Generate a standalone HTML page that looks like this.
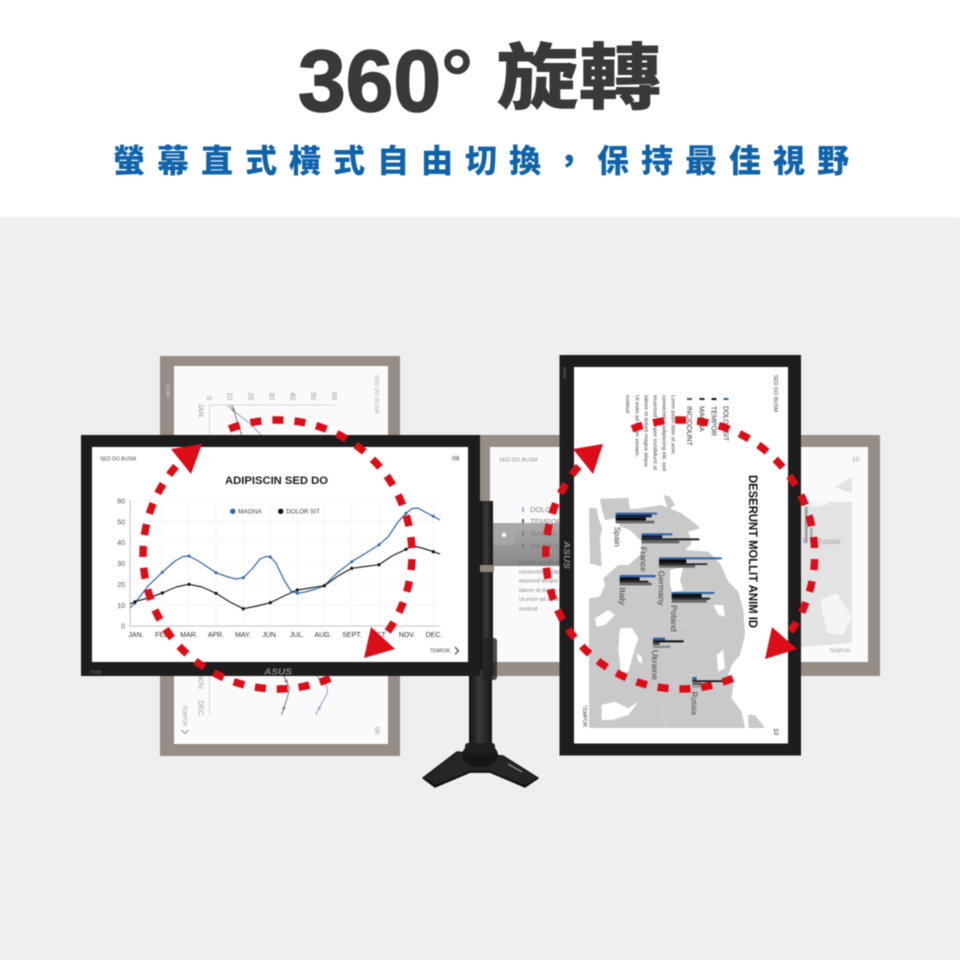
<!DOCTYPE html>
<html><head><meta charset="utf-8"><style>
html,body{margin:0;padding:0;width:960px;height:960px;overflow:hidden;background:#fff}
svg{display:block;filter:blur(.4px)}
text{font-family:"Liberation Sans","Noto Sans CJK TC",sans-serif}
</style></head><body>
<svg width="960" height="960" viewBox="0 0 960 960" xmlns="http://www.w3.org/2000/svg">
<defs>
<linearGradient id="pole" x1="0" x2="1" y1="0" y2="0"><stop offset="0" stop-color="#111"/><stop offset=".45" stop-color="#3a3a3a"/><stop offset="1" stop-color="#151515"/></linearGradient>
<linearGradient id="arm" x1="0" x2="0" y1="0" y2="1"><stop offset="0" stop-color="#9a9a9a"/><stop offset="1" stop-color="#6e6e6e"/></linearGradient>
</defs>
<rect width="960" height="960" fill="#fff"/>
<rect y="217" width="960" height="743" fill="#efefef"/>

<!-- Heading -->
<text x="298" y="111" font-size="87" font-weight="700" fill="#393939" stroke="#393939" stroke-width="1.6" textLength="143" lengthAdjust="spacingAndGlyphs">360</text>
<text x="441" y="105" font-size="80" font-weight="700" fill="#393939" stroke="#393939" stroke-width=".6">°</text>
<text transform="translate(496 103) scale(1.01 .88)" font-size="82" font-weight="900" fill="#393939">旋轉</text>
<text x="113" y="172" font-size="32" font-weight="900" fill="#0f63ab" letter-spacing="12">螢幕直式橫式自由切換，保持最佳視野</text>

<!-- Left portrait ghost -->
<rect x="160" y="356" width="240" height="400" fill="#968d87"/>
<rect x="174" y="366" width="214" height="378" fill="#fafafa"/>
<text transform="translate(166 385) rotate(90)" font-size="5" fill="#ccc">HDMI</text>
<g transform="matrix(0 1 -1 0 835.5 275)" opacity=".55">
 <g stroke="#bbb" stroke-width="1" fill="none"><path d="M130 500V626H440"/></g>
 <polyline fill="none" stroke="#3c68a8" stroke-width="1.1" points="130,608 135,603 148,586 162.3,572.3 175,561 183,556.5 189,556 200,562 216,572.7 228,577 236,579 243.3,577.7 252,569 260,559 266,556.5 270.3,557 276,563 284,580 291,591 297.3,593.3 305,592 316,589 324.3,585.7 337,573 351.7,561.7 366,553 379,544.7 388,537 398,522 406,513.3 412,508.5 418,508 425,512 433.3,516.3 440,520"/>
 <polyline fill="none" stroke="#222" stroke-width="1.1" points="130,604 135,601.7 148,598 162.3,593 176,587 189,584.3 202,587 216,593.3 230,602 243.3,608.7 257,606 270.3,602.7 284,596 297.3,590 310,588 324.3,585.7 338,576 351.7,568.3 365,566.5 379,564.7 392,556 406,549.3 413,546 422,548 433.3,551.7 440,554"/>
 <circle cx="135" cy="602" r="1.5" fill="#222"/><circle cx="406" cy="549.3" r="1.5" fill="#222"/><circle cx="433.3" cy="551.7" r="1.5" fill="#222"/><circle cx="433.3" cy="516.3" r="1.5" fill="#3c68a8"/>
 <g font-size="7" fill="#444" text-anchor="end"><text x="125" y="503.5">60</text><text x="125" y="524.3">50</text><text x="125" y="545">40</text><text x="125" y="566">30</text><text x="125" y="587">20</text><text x="125" y="608">10</text><text x="125" y="628.5">0</text></g>
 <g font-size="7" fill="#444" text-anchor="middle"><text x="136" y="637">JAN.</text><text x="407" y="637">NOV.</text><text x="434" y="637">DEC.</text></g>
 <text x="100" y="460.5" font-size="5.5" fill="#666">SED DO BUSM</text>
 <text x="452" y="460.5" font-size="6.5" fill="#444">09</text>
 <text x="430" y="652.5" font-size="5" fill="#555">TEMPOR</text>
 <path d="M455 647l3.5 3.7-3.5 3.7" fill="none" stroke="#444" stroke-width="1"/>
</g>

<!-- Right landscape ghost -->
<rect x="480" y="435" width="400" height="241" fill="#968d87"/>
<rect x="490" y="447" width="378" height="215" fill="#fafafa"/>
<polygon points="800,508 820,502 852,502 852,643 800,647" fill="#e3e3e3"/>
<polygon points="835,487 852,477 852,493 842,490" fill="#e3e3e3"/>
<polygon points="820,600 837,593 852,617 843,635 827,633" fill="#f5f5f5"/>
<polygon points="805,503 818,500 830,504 815,507" fill="#f5f5f5"/>
<rect x="805" y="507" width="2.5" height="36" fill="#9a9a9a"/>
<rect x="810" y="528" width="2.5" height="14" fill="#aaa"/>
<rect x="803" y="538" width="2.5" height="5" fill="#a9b8d6"/>
<text x="816" y="544" font-size="8" fill="#a0a0a0">Russia</text>
<text x="499" y="461.5" font-size="5.5" fill="#8c8c8c">SED DO BUSM</text>
<text x="852" y="461.5" font-size="6.5" fill="#999">10</text>
<text x="829" y="652.5" font-size="5" fill="#999">TEMPOR</text>
<rect x="522" y="507" width="2" height="5" fill="#a3b3d3"/><text x="530" y="512" font-size="7.5" fill="#888">DOLOR SIT</text>
<rect x="522" y="519" width="2" height="5" fill="#666"/><text x="530" y="524" font-size="7.5" fill="#888">TEMPOR</text>
<rect x="522" y="531" width="2" height="5" fill="#333"/><text x="530" y="536" font-size="7.5" fill="#555">MAGNA</text>
<rect x="522" y="543.5" width="2" height="5" fill="#555"/><text x="530" y="548.5" font-size="7.5" fill="#555">INCIDDUNT</text>
<g font-size="5.5" fill="#888">
<text x="519" y="564.5" fill="#444" font-size="6">Lorem ipsum dolor sit amet,</text>
<text x="519" y="573.5">consectetur adipiscing</text>
<text x="519" y="582.5">eiusmod tempor incididunt</text>
<text x="519" y="592">labore et dolore magna</text>
<text x="519" y="601">Ut enim ad minim</text>
<text x="519" y="610.5">nostrud</text>
</g>

<!-- Arm and pole -->
<rect x="492" y="523" width="68" height="43" fill="url(#arm)" opacity=".82"/>
<rect x="493" y="523" width="22" height="22" rx="3" fill="#a8a8a8" opacity=".8"/>
<circle cx="504" cy="535" r="2.2" fill="#fff"/>
<rect x="480" y="501" width="13" height="175" fill="url(#pole)"/>
<rect x="480" y="565" width="14" height="7" fill="#8d8678"/>
<rect x="469" y="670" width="23" height="76" fill="url(#pole)"/>
<rect x="483" y="638" width="14" height="42" rx="3" fill="#222" opacity=".8"/>
<polygon points="423,778 457,752 503,756 538,778 525,787 490,772 470,772 435,787" fill="#252525" stroke="#1c1c1c" stroke-width="1.5" stroke-linejoin="round"/>
<path d="M425 779l10 7 35-14h20l35 14 12-7" fill="none" stroke="#0c0c0c" stroke-width="1.5"/>
<ellipse cx="480" cy="755" rx="18" ry="12" fill="#171717"/>
<rect x="465" y="743" width="30" height="12" rx="3" fill="#1e1e1e"/>
<path d="M508 764l14 8" stroke="#999" stroke-width="1.2"/>

<!-- Left monitor -->
<rect x="81" y="435" width="399" height="241" fill="#1d1d1d"/>
<rect x="92" y="447" width="376" height="215" fill="#fff"/>
<g stroke="#f0f0f0" stroke-width=".7" fill="none">
 <path d="M130 500.7H440M130 521.5H440M130 542.3H440M130 563.2H440M130 584H440M130 604.9H440M162.3 500V626M189 500V626M216 500V626M243.3 500V626M270.3 500V626M297.3 500V626M324.3 500V626M351.7 500V626M379 500V626M406 500V626M433.3 500V626"/>
</g>
<path d="M130 500V626H440" fill="none" stroke="#c4c4c4" stroke-width="1"/>
<text x="100" y="460.5" font-size="5.5" fill="#444" textLength="36" lengthAdjust="spacingAndGlyphs">SED DO BUSM</text>
<text x="452" y="460.5" font-size="6.5" fill="#333">09</text>
<text x="225" y="484" font-size="11" font-weight="700" fill="#1c1c1c" textLength="103" lengthAdjust="spacingAndGlyphs">ADIPISCIN SED DO</text>
<circle cx="232.7" cy="511.3" r="2.7" fill="#2d62a8"/><text x="238" y="513.6" font-size="6.5" fill="#444" textLength="24" lengthAdjust="spacingAndGlyphs">MAGNA</text>
<circle cx="280.7" cy="511.3" r="2.7" fill="#111"/><text x="286" y="513.6" font-size="6.5" fill="#444" textLength="34" lengthAdjust="spacingAndGlyphs">DOLOR SIT</text>
<g font-size="7" fill="#555" text-anchor="end"><text x="125" y="503.5">60</text><text x="125" y="524.3">50</text><text x="125" y="545">40</text><text x="125" y="566">30</text><text x="125" y="587">20</text><text x="125" y="608">10</text><text x="125" y="628.5">0</text></g>
<g font-size="7" fill="#333" text-anchor="middle"><text x="136" y="637">JAN.</text><text x="163" y="637">FEB.</text><text x="189" y="637">MAR.</text><text x="216" y="637">APR.</text><text x="243" y="637">MAY.</text><text x="270" y="637">JUN.</text><text x="297" y="637">JUL.</text><text x="323" y="637">AUG.</text><text x="352" y="637">SEPT.</text><text x="379" y="637">OCT.</text><text x="407" y="637">NOV.</text><text x="434" y="637">DEC.</text></g>
<polyline fill="none" stroke="#2f65ab" stroke-width="1.2" stroke-linejoin="round" points="130,608 135,603 148,586 162.3,572.3 175,561 183,556.5 189,556 200,562 216,572.7 228,577 236,579 243.3,577.7 252,569 260,559 266,556.5 270.3,557 276,563 284,580 291,591 297.3,593.3 305,592 316,589 324.3,585.7 337,573 351.7,561.7 366,553 379,544.7 388,537 398,522 406,513.3 412,508.5 418,508 425,512 433.3,516.3 440,520"/>
<polyline fill="none" stroke="#222" stroke-width="1.2" stroke-linejoin="round" points="130,604 135,601.7 148,598 162.3,593 176,587 189,584.3 202,587 216,593.3 230,602 243.3,608.7 257,606 270.3,602.7 284,596 297.3,590 310,588 324.3,585.7 338,576 351.7,568.3 365,566.5 379,564.7 392,556 406,549.3 413,546 422,548 433.3,551.7 440,554"/>
<g fill="#2f65ab"><circle cx="135" cy="603" r="1.5"/><circle cx="162.3" cy="572.3" r="1.5"/><circle cx="189" cy="556" r="1.5"/><circle cx="216" cy="572.7" r="1.5"/><circle cx="243.3" cy="577.7" r="1.5"/><circle cx="270.3" cy="557" r="1.5"/><circle cx="297.3" cy="593.3" r="1.5"/><circle cx="324.3" cy="585.7" r="1.5"/><circle cx="351.7" cy="561.7" r="1.5"/><circle cx="379" cy="544.7" r="1.5"/><circle cx="406" cy="513.3" r="1.5"/><circle cx="433.3" cy="516.3" r="1.5"/></g>
<g fill="#111"><circle cx="135" cy="601.7" r="1.6"/><circle cx="162.3" cy="593" r="1.6"/><circle cx="189" cy="584.3" r="1.6"/><circle cx="216" cy="593.3" r="1.6"/><circle cx="243.3" cy="608.7" r="1.6"/><circle cx="270.3" cy="602.7" r="1.6"/><circle cx="297.3" cy="590" r="1.6"/><circle cx="324.3" cy="585.7" r="1.6"/><circle cx="351.7" cy="568.3" r="1.6"/><circle cx="379" cy="564.7" r="1.6"/><circle cx="406" cy="549.3" r="1.6"/><circle cx="433.3" cy="551.7" r="1.6"/></g>
<text x="430" y="652.5" font-size="5" fill="#444" textLength="20" lengthAdjust="spacingAndGlyphs">TEMPOR</text>
<path d="M455 647l3.5 3.7-3.5 3.7" fill="none" stroke="#333" stroke-width="1.1"/>
<text x="90" y="673.5" font-size="4.5" fill="#777">HDMI</text>
<text x="264" y="674.5" font-size="8" font-weight="700" font-style="italic" fill="#888" textLength="28" lengthAdjust="spacingAndGlyphs">ASUS</text>

<!-- Right monitor -->
<rect x="559.5" y="355" width="241.5" height="400.5" fill="#1d1d1d"/>
<rect x="574" y="367" width="214" height="376.5" fill="#fff"/>
<g transform="translate(585 485) scale(.33333)">
 <polygon fill="#c9c9c9" points="45,42 130,38 135,72 165,70 230,60 290,85 330,115 345,130 310,140 320,175 300,195 370,200 405,235 430,290 460,320 475,375 480,450 465,510 440,540 430,570 445,600 440,640 470,680 480,729 12,729 12,340 45,335 60,300 55,280 100,240 130,240 165,210 170,170 135,135 105,125 95,100 60,105 50,70"/>
 <polygon fill="#c9c9c9" points="12,68 35,70 40,100 52,130 45,160 50,245 15,235"/>
 <polygon fill="#c9c9c9" points="235,30 255,35 270,60 250,75"/>
 <polygon fill="#c9c9c9" points="490,690 510,690 540,729 490,729"/>
 <g fill="#fff">
  <polygon points="255,255 295,245 285,285 295,315 262,322 255,298"/>
  <polygon points="105,430 140,428 160,460 150,490 130,560 108,565 100,490"/>
  <polygon points="155,505 170,515 172,535 160,530"/>
  <polygon points="395,510 415,495 420,550 400,560"/>
  <polygon points="385,360 415,360 420,395 400,390"/>
  <polygon points="30,400 70,375 90,390 60,420 35,425"/>
  <polygon points="50,660 90,650 130,670 160,650 130,690 80,705 50,705"/>
 </g>
 <g fill="none" stroke="#fff" stroke-width="1.2" opacity=".4">
  <path d="M170 300l50 30 20 40M130 380l60-10 40 40 80 10M300 420l50 30 40-30 80 10M230 480l30 70 80 30M170 620l60 40 10 69M40 620l50-30 30 40M12 590l60-20"/>
 </g>
</g>
<g transform="translate(585 485) scale(.33333)">
 <rect x="92" y="83" width="124" height="6" fill="#2c60a8"/><rect x="92" y="89" width="108" height="8" fill="#10213a"/><rect x="92" y="97" width="91" height="10" fill="#0d0d0d"/><rect x="92" y="107" width="116" height="8" fill="#666"/>
 <rect x="170" y="145" width="92" height="6" fill="#2c60a8"/><rect x="170" y="151" width="62" height="9" fill="#10213a"/><rect x="170" y="160" width="173" height="6" fill="#222"/><rect x="170" y="166" width="113" height="9" fill="#666"/>
 <rect x="222" y="217" width="188" height="6" fill="#2c60a8"/><rect x="222" y="223" width="82" height="12" fill="#0d0d0d"/><rect x="222" y="235" width="145" height="5" fill="#222"/><rect x="222" y="240" width="108" height="8" fill="#666"/>
 <rect x="104" y="270" width="108" height="7" fill="#2c60a8"/><rect x="104" y="277" width="60" height="10" fill="#0d0d0d"/><rect x="104" y="287" width="86" height="6" fill="#222"/><rect x="104" y="293" width="96" height="8" fill="#666"/>
 <rect x="260" y="321" width="128" height="6" fill="#2c60a8"/><rect x="260" y="327" width="90" height="11" fill="#0d0d0d"/><rect x="260" y="338" width="115" height="6" fill="#222"/><rect x="260" y="344" width="105" height="9" fill="#666"/>
 <rect x="204" y="458" width="36" height="8" fill="#2c60a8"/><rect x="204" y="466" width="92" height="6" fill="#0d0d0d"/><rect x="204" y="472" width="20" height="8" fill="#444"/><rect x="204" y="482" width="52" height="7" fill="#888"/>
 <rect x="322" y="576" width="13" height="10" fill="#2c60a8"/><rect x="322" y="586" width="116" height="5" fill="#0d0d0d"/><rect x="322" y="593" width="28" height="7" fill="#555"/><rect x="322" y="602" width="40" height="6" fill="#999"/>
</g>
<g transform="matrix(0 1 -1 0 1235.5 -124)">
 <text x="499" y="461.5" font-size="5.5" fill="#444" textLength="37" lengthAdjust="spacingAndGlyphs">SED DO BUSM</text>
 <text x="852" y="461.5" font-size="6.5" fill="#333">10</text>
 <text x="829" y="652.5" font-size="5" fill="#444" textLength="22" lengthAdjust="spacingAndGlyphs">TEMPOR</text>
 <text x="599" y="486.5" font-size="12" font-weight="700" fill="#111" textLength="153" lengthAdjust="spacingAndGlyphs">DESERUNT MOLLIT ANIM ID</text>
 <rect x="522" y="507" width="2" height="5" fill="#2c60a8"/><text x="530" y="512" font-size="7" fill="#333" textLength="35" lengthAdjust="spacingAndGlyphs">DOLOR SIT</text>
 <rect x="522" y="519" width="2" height="5" fill="#111"/><text x="530" y="524" font-size="7" fill="#333">TEMPOR</text>
 <rect x="522" y="531" width="2" height="5" fill="#222"/><text x="530" y="536" font-size="7" fill="#333">MAGNA</text>
 <rect x="522" y="543.5" width="2" height="5" fill="#555"/><text x="530" y="548.5" font-size="7" fill="#333" textLength="40" lengthAdjust="spacingAndGlyphs">INCIDDUNT</text>
 <g font-size="5.3" fill="#444">
  <text x="519" y="564" textLength="60" lengthAdjust="spacingAndGlyphs">Lorem ipsum dolor sit amet,</text>
  <text x="519" y="573" textLength="76" lengthAdjust="spacingAndGlyphs">consectetur adipiscing elit, sed</text>
  <text x="519" y="582" textLength="75" lengthAdjust="spacingAndGlyphs">eiusmod tempor incididunt ut</text>
  <text x="519" y="591" textLength="73" lengthAdjust="spacingAndGlyphs">labore et dolore magna aliqua.</text>
  <text x="519" y="600" textLength="62" lengthAdjust="spacingAndGlyphs">Ut enim ad minim veniam,</text>
  <text x="519" y="609.5" textLength="18" lengthAdjust="spacingAndGlyphs">nostrud</text>
 </g>
 <g font-size="8" fill="#444">
  <text x="650.7" y="621" textLength="20" lengthAdjust="spacingAndGlyphs">Spain</text>
  <text x="670.7" y="594.8" textLength="25" lengthAdjust="spacingAndGlyphs">France</text>
  <text x="694.7" y="577" textLength="35" lengthAdjust="spacingAndGlyphs">Germany</text>
  <text x="711.3" y="616.2" textLength="18" lengthAdjust="spacingAndGlyphs">Italy</text>
  <text x="729" y="564.5" textLength="26.7" lengthAdjust="spacingAndGlyphs">Poland</text>
  <text x="774" y="583.5" textLength="30" lengthAdjust="spacingAndGlyphs">Ukraine</text>
  <text x="815.7" y="543.8" textLength="23.3" lengthAdjust="spacingAndGlyphs">Russia</text>
 </g>
</g>
<text transform="translate(563 367) rotate(90)" font-size="4.5" fill="#777">HDMI</text>
<text transform="translate(564 541) rotate(90)" font-size="8" font-weight="700" font-style="italic" fill="#888" textLength="28" lengthAdjust="spacingAndGlyphs">ASUS</text>

<!-- Red rotation arrows -->
<g fill="none" stroke="#dd0d18" stroke-width="7.5">
 <path d="M229.3 428.9A134.5 134.5 0 0 1 387.7 631.6" stroke-dasharray="11 11.1"/>
 <path d="M330.1 678.3A134.5 134.5 0 0 1 176 466.3" stroke-dasharray="11 10.9"/>
 <path d="M632 428.9A134.5 134.5 0 0 1 790.4 631.6" stroke-dasharray="11 11.1"/>
 <path d="M732.8 678.3A134.5 134.5 0 0 1 578.7 466.3" stroke-dasharray="11 10.9"/>
</g>
<g fill="#dd0d18">
 <polygon points="202,444 171,449 191,474"/>
 <polygon points="371,627 395,649 364,658"/>
 <polygon points="603,444 573,449 593,474"/>
 <polygon points="772,627 797,649 765,659"/>
</g>
</svg>
</body></html>
